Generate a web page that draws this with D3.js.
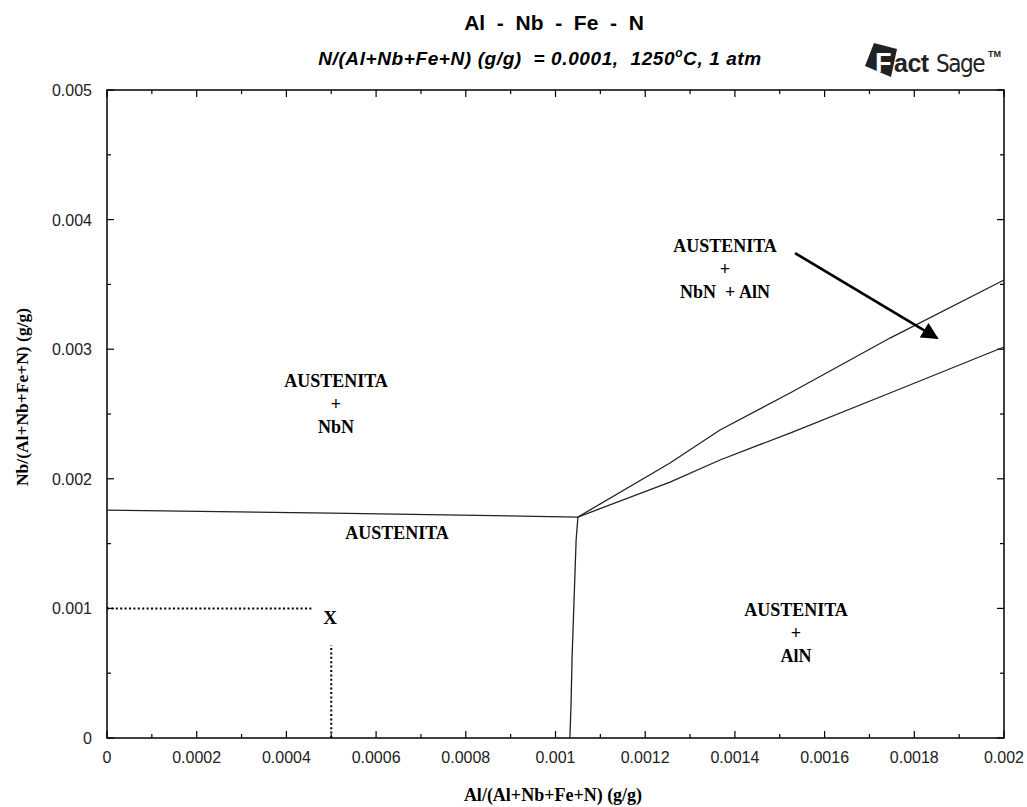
<!DOCTYPE html>
<html>
<head>
<meta charset="utf-8">
<script src="https://cdn.jsdelivr.net/npm/d3@7/dist/d3.min.js"></script>
<style>
  body { margin: 0; background: #fff; }
  svg { display: block; }
</style>
</head>
<body>
<svg id="chart" width="1027" height="807"></svg>
<script>
// phase boundaries (x = Al, y = Nb, mass fractions)
var nbnBoundary = [[0, 0.001759], [0.0005, 0.001735], [0.00105, 0.001705]];
var alnBoundary = [[0.001032, 0], [0.0010345, 0.000239], [0.001037, 0.000625], [0.001046, 0.001528], [0.00105, 0.001705]];
var upperBoundary = [[0.00105, 0.001705], [0.0012553, 0.002122], [0.0013668, 0.002377], [0.0015229, 0.002662], [0.0017458, 0.003086], [0.002, 0.003534]];
var lowerBoundary = [[0.00105, 0.001705], [0.0012553, 0.001975], [0.0013668, 0.002145], [0.0015229, 0.002353], [0.0017458, 0.002662], [0.002, 0.003017]];
var pointX = [0.0005, 0.001];
var xTicks = [0, 0.0002, 0.0004, 0.0006, 0.0008, 0.001, 0.0012, 0.0014, 0.0016, 0.0018, 0.002];
var yTicks = [0, 0.001, 0.002, 0.003, 0.004, 0.005];
var xTickLabels = ['0', '0.0002', '0.0004', '0.0006', '0.0008', '0.001', '0.0012', '0.0014', '0.0016', '0.0018', '0.002'];
var yTickLabels = ['0', '0.001', '0.002', '0.003', '0.004', '0.005'];
var xMinor = d3.range(0, 21).map(function (i) { return i * 0.0001; });
var yMinor = d3.range(0, 11).map(function (i) { return i * 0.0005; });

(function () {
    var svg = d3.select('#chart');
    var mLeft = 107, mRight = 1004, mTop = 90, mBottom = 738;
    var x = d3.scaleLinear().domain([0, 0.002]).range([mLeft, mRight]);
    var y = d3.scaleLinear().domain([0, 0.005]).range([mBottom, mTop]);

    var sans = '"Liberation Sans", Arial, sans-serif';
    var serif = '"Liberation Serif", "Times New Roman", serif';

    // frame
    svg.append('rect')
        .attr('x', mLeft).attr('y', mTop)
        .attr('width', mRight - mLeft).attr('height', mBottom - mTop)
        .attr('fill', 'none').attr('stroke', '#000').attr('stroke-width', 1.5);

    // ticks, inward on all four sides
    var tg = svg.append('g').attr('stroke', '#000').attr('stroke-width', 1.2);
    xMinor.forEach(function (v, i) {
        var len = i % 2 === 0 ? 7 : 4;
        tg.append('line').attr('x1', x(v)).attr('x2', x(v)).attr('y1', mBottom).attr('y2', mBottom - len);
        tg.append('line').attr('x1', x(v)).attr('x2', x(v)).attr('y1', mTop).attr('y2', mTop + len);
    });
    yMinor.forEach(function (v, i) {
        var len = i % 2 === 0 ? 7 : 4;
        tg.append('line').attr('x1', mLeft).attr('x2', mLeft + len).attr('y1', y(v)).attr('y2', y(v));
        tg.append('line').attr('x1', mRight).attr('x2', mRight - len).attr('y1', y(v)).attr('y2', y(v));
    });

    // tick labels
    svg.append('g').selectAll('text').data(xTicks).enter().append('text')
        .attr('x', function (d) { return x(d); })
        .attr('y', 763)
        .attr('text-anchor', 'middle')
        .attr('font-family', sans).attr('font-size', 16).attr('fill', '#222')
        .text(function (d, i) { return xTickLabels[i]; });
    svg.append('g').selectAll('text').data(yTicks).enter().append('text')
        .attr('x', 92)
        .attr('y', function (d) { return y(d) + 6; })
        .attr('text-anchor', 'end')
        .attr('font-family', sans).attr('font-size', 16).attr('fill', '#222')
        .text(function (d, i) { return yTickLabels[i]; });

    // boundaries
    var line = d3.line().x(function (d) { return x(d[0]); }).y(function (d) { return y(d[1]); });
    [nbnBoundary, alnBoundary, upperBoundary, lowerBoundary].forEach(function (b) {
        svg.append('path').datum(b).attr('d', line)
            .attr('fill', 'none').attr('stroke', '#222').attr('stroke-width', 1.3);
    });

    // dotted guide lines to the point X
    var dots = svg.append('g').attr('stroke', '#000').attr('stroke-width', 2).attr('stroke-dasharray', '2,2.4').attr('fill', 'none');
    dots.append('line').attr('x1', x(0)).attr('x2', x(0.000459)).attr('y1', y(pointX[1])).attr('y2', y(pointX[1]));
    dots.append('line').attr('x1', x(pointX[0])).attr('x2', x(pointX[0])).attr('y1', y(0)).attr('y2', y(0.000718));
    svg.append('text').attr('x', 330).attr('y', 624).attr('text-anchor', 'middle')
        .attr('font-family', serif).attr('font-size', 19).attr('font-weight', 'bold').text('X');

    // arrow
    svg.append('defs').append('marker')
        .attr('id', 'head').attr('viewBox', '0 0 10 10').attr('refX', 9).attr('refY', 5)
        .attr('markerWidth', 7.5).attr('markerHeight', 6.5).attr('markerUnits', 'strokeWidth')
        .attr('orient', 'auto')
        .append('path').attr('d', 'M0,0 L10,5 L0,10 Z').attr('fill', '#000');
    svg.append('line')
        .attr('x1', x(0.001534)).attr('y1', y(0.003742))
        .attr('x2', x(0.001851)).attr('y2', y(0.003086))
        .attr('stroke', '#000').attr('stroke-width', 2.6).attr('marker-end', 'url(#head)');

    // phase labels
    function label(lines, cx, cy) {
        lines.forEach(function (t, i) {
            svg.append('text').attr('x', cx).attr('y', cy + i * 23 + 6)
                .attr('text-anchor', 'middle').attr('font-family', serif)
                .attr('font-size', 18).attr('font-weight', 'bold')
                .style('white-space', 'pre').text(t);
        });
    }
    label(['AUSTENITA', '+', 'NbN  + AlN'], 725, 246);
    label(['AUSTENITA', '+', 'NbN'], 336, 381);
    label(['AUSTENITA'], 397, 533);
    label(['AUSTENITA', '+', 'AlN'], 796, 610);

    // titles
    svg.append('text').attr('x', 554).attr('y', 30).attr('text-anchor', 'middle')
        .attr('font-family', sans).attr('font-size', 21).attr('font-weight', 'bold')
        .style('white-space', 'pre').text('Al  -  Nb  -  Fe  -  N');
    var sub = svg.append('text').attr('x', 540).attr('y', 65).attr('text-anchor', 'middle')
        .attr('font-family', sans).attr('font-size', 19).attr('font-weight', 'bold').attr('font-style', 'italic')
        .attr('letter-spacing', 0.6)
        .style('white-space', 'pre');
    sub.append('tspan').text('N/(Al+Nb+Fe+N) (g/g)  = 0.0001,  1250');
    sub.append('tspan').attr('dy', -8).attr('font-size', 12).text('o');
    sub.append('tspan').attr('dy', 8).text('C, 1 atm');

    svg.append('text').attr('x', 553).attr('y', 801).attr('text-anchor', 'middle')
        .attr('font-family', serif).attr('font-size', 18).attr('font-weight', 'bold')
        .text('Al/(Al+Nb+Fe+N) (g/g)');
    svg.append('text').attr('transform', 'translate(28,397) rotate(-90)').attr('text-anchor', 'middle')
        .attr('font-family', serif).attr('font-size', 17.5).attr('font-weight', 'bold')
        .text('Nb/(Al+Nb+Fe+N) (g/g)');

    // FactSage logo
    var logo = svg.append('g');
    logo.append('path').attr('d', 'M874,43 L897,49 L891,77 L865,66 Z').attr('fill', '#222');
    logo.append('text').attr('x', 875).attr('y', 72).attr('font-family', sans).attr('font-size', 27)
        .attr('font-weight', 'bold').attr('fill', '#fff').text('F');
    logo.append('text').attr('x', 894).attr('y', 72).attr('font-family', sans).attr('font-size', 25)
        .attr('font-weight', 'bold').attr('fill', '#222').attr('letter-spacing', -0.5).text('act');
    logo.append('text').attr('x', 936).attr('y', 72).attr('font-family', '"DejaVu Sans Condensed", sans-serif').attr('font-size', 24)
        .attr('fill', '#222').attr('letter-spacing', -1.5).text('Sage');
    logo.append('text').attr('x', 988).attr('y', 57).attr('font-family', sans).attr('font-size', 9)
        .attr('font-weight', 'bold').attr('fill', '#222').text('TM');
})();
</script>
</body>
</html>
